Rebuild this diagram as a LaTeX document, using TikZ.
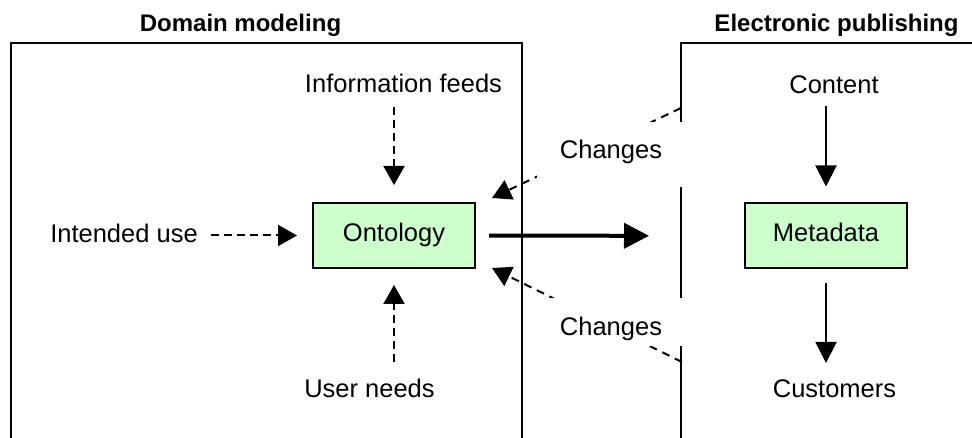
\documentclass[tikz,border=0pt]{standalone}
\usepackage{fontspec}
\setmainfont{Liberation Sans}
\usetikzlibrary{arrows.meta}
\definecolor{boxgreen}{HTML}{CCFFCC}
\tikzset{
  lbl/.style={inner sep=0pt, anchor=base, font=\fontsize{25.5}{30}\selectfont},
  ttl/.style={inner sep=0pt, anchor=base, font=\fontsize{24}{28}\selectfont\bfseries},
  concept/.style={draw=black, line width=2pt, fill=boxgreen, minimum width=162pt, minimum height=65pt, inner sep=0pt, font=\fontsize{25.5}{30}\selectfont, text height=18pt, text depth=6pt},
  frame/.style={draw=black, line width=2pt},
  dasharr/.style={line width=2pt, dash pattern=on 8pt off 5pt, -{Triangle[length=19pt,width=21pt]}},
  solidarr/.style={line width=2pt, -{Triangle[length=21pt,width=21pt]}},
  thickarr/.style={line width=4pt, -{Triangle[length=25pt,width=25pt]}},
  chg/.style={fill=white, inner sep=0pt, minimum width=148pt, font=\fontsize{25.5}{30}\selectfont}
}
\begin{document}
\begin{tikzpicture}[x=1pt, y=-1pt]
\clip (0,0) rectangle (972,438);
\fill[white] (0,0) rectangle (972,438);
% frames
\draw[frame] (11,450) -- (11,43) -- (522,43) -- (522,450);
\draw[frame] (681,450) -- (681,43) -- (990,43);
% titles
\node[ttl] (tdm) at (240.5,32) {Domain modeling};
\node[ttl] (tep) at (836.5,32) {Electronic publishing};
% concept boxes
\node[concept] (onto) at (394,235.5) {Ontology};
\node[concept] (meta) at (826,236) {Metadata};
% labels
\node[lbl] (info) at (403.5,93) {Information feeds};
\node[lbl] (intent) at (124,243) {Intended use};
\node[lbl] (users) at (369.5,397) {User needs};
\node[lbl] (content) at (834,94) {Content};
\node[lbl] (cust) at (834.5,397) {Customers};
% connectors
\draw[dasharr, shorten <=14pt, shorten >=17pt] (onto.north |- info.south) -- (onto.north);
\draw[dasharr, shorten <=13pt, shorten >=15pt] (intent.east |- onto.west) -- (onto.west);
\draw[dasharr, shorten <=16pt, shorten >=16pt] (onto.south |- users.north) -- (onto.south);
\draw[solidarr, shorten <=12pt, shorten >=16pt] (meta.north |- content.south) -- (meta.north);
\draw[solidarr, shorten <=14pt, shorten >=16pt] (meta.south) -- (meta.south |- cust.north);
\draw[thickarr, shorten <=13pt, shorten >=95pt] (onto.east) -- (meta.west);
% change feedback
\coordinate (c1s) at (681,108);
\coordinate (c1e) at (492,198);
\coordinate (c2s) at (682,362);
\coordinate (c2e) at (492,268);
\draw[dasharr, dash pattern=on 8pt off 6pt] (c1s) -- (c1e);
\draw[dasharr, dash pattern=on 8pt off 6pt] (c2s) -- (c2e);
\node[chg, minimum height=65pt, text height=18pt, text depth=9pt] (chg1) at (611,154.5) {Changes};
\node[chg, minimum height=48pt, text height=26pt, text depth=0pt] (chg2) at (611,322) {Changes};
\end{tikzpicture}
\end{document}
